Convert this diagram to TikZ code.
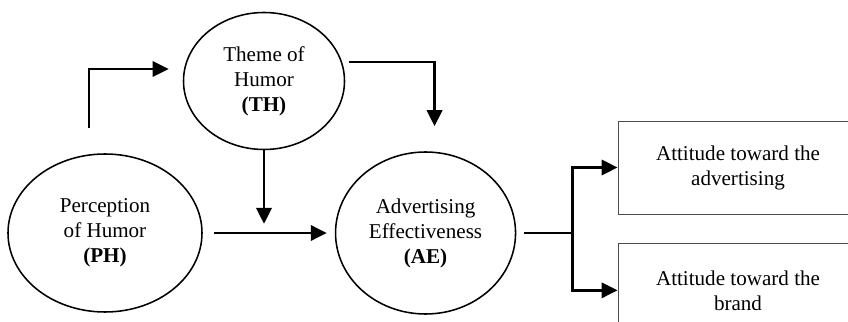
\documentclass[tikz,border=0pt]{standalone}
\usepackage{fontspec}
\setmainfont{Liberation Serif}
\usetikzlibrary{arrows.meta, positioning, shapes.geometric, calc}

\begin{document}
\begin{tikzpicture}[
  node distance=0.725cm and 3.3cm,
  var/.style={ellipse, draw, line width=1.1pt, inner sep=0pt, align=center,
              font=\fontsize{15}{17.8}\selectfont},
  res/.style={rectangle, draw=black!70, line width=0.6pt, minimum width=6cm,
              minimum height=2.325cm, align=center, font=\fontsize{15}{17.8}\selectfont},
  link/.style={line width=2pt, -{Triangle[length=0.4cm, width=0.38cm]}}
]
  \clip (0,0) rectangle (21.2,8.025);

  \node[var, minimum width=4.85cm, minimum height=3.95cm] (ph) at (2.625,2.2)
    {Perception\\of Humor\\\textbf{(PH)}};
  \node[var, minimum width=4.5cm, minimum height=4.05cm] (ae) [right=of ph]
    {Advertising\\Effectiveness\\\textbf{(AE)}};
  \node[var, minimum width=4.025cm, minimum height=3.425cm] (th) at (6.6,6.0)
    {Theme of\\Humor\\\textbf{(TH)}};
  \node[res] (atad) at (18.45,3.8375) {Attitude toward the\\advertising};
  \node[res] (atbr) [below=of atad] {Attitude toward the\\brand};

  \coordinate (phup) at (2.225,4.825);
  \coordinate (split) at ($(ae.east)+(1.4,0)$);

  \draw[link] (phup) |- ($(th.west)+(-0.35,0.3)$);
  \draw[link] ($(th.east)+(0.1,0.475)$) -| ($(ae.north)+(0.225,0.625)$);
  \draw[link] (th.south) -- ++(0,-1.84);
  \draw[link, shorten <=0.275cm, shorten >=0.2cm] (ph) -- (ae);
  \draw[line width=2pt, shorten <=0.2cm] (ae.east) -- (split);
  \draw[link] (split) |- (atad.west);
  \draw[link] (split) |- (atbr.west);
\end{tikzpicture}
\end{document}
